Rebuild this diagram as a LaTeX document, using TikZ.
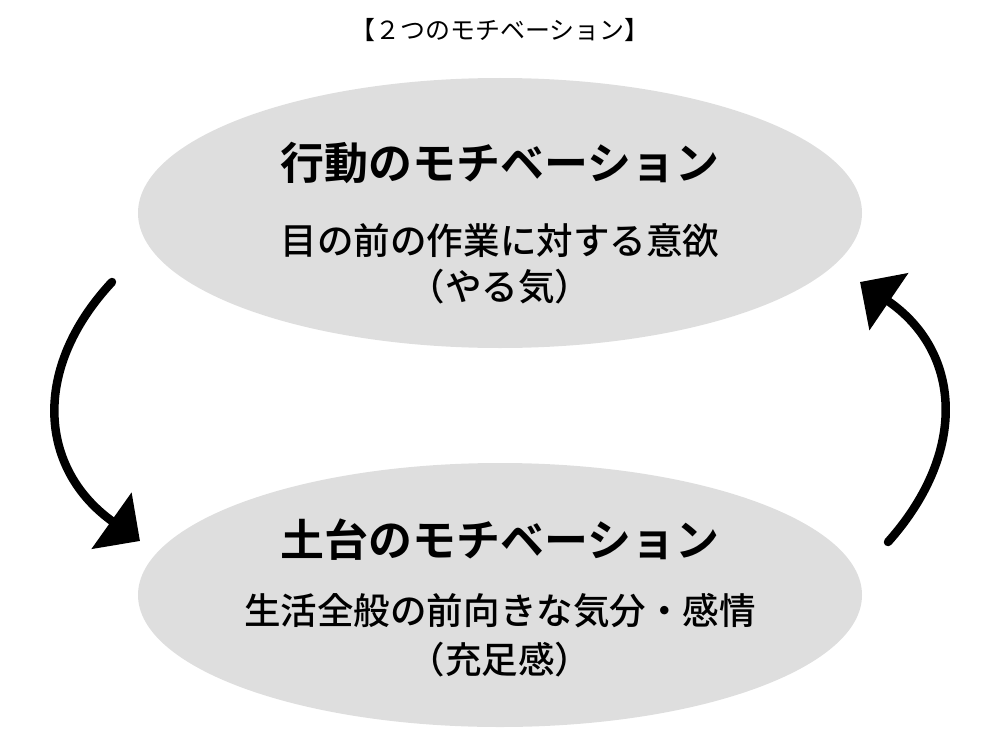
\documentclass[tikz,border=0pt]{standalone}
\usepackage{fontspec}
\usetikzlibrary{arrows.meta}
\newfontfamily\jpfont{Noto Sans CJK JP}
\newfontfamily\jpbold{Noto Sans CJK JP Bold}
\newfontfamily\jpmedium{Noto Sans CJK JP Medium}
\definecolor{ovalgray}{HTML}{DEDEDE}

\begin{document}
\begin{tikzpicture}[
        x=0.02cm, y=-0.02cm,
        oval/.style={fill=ovalgray},
        title/.style={font=\jpfont\fontsize{14.2}{17}\selectfont},
        heading/.style={font=\jpbold\fontsize{25}{30}\selectfont},
        sub/.style={font=\jpmedium\fontsize{20.8}{26}\selectfont, align=center},
        turn/.style={line width=0.17cm, line cap=round, -{Triangle[length=0.7cm, width=1.35cm]}},
    ]
    \useasboundingbox (0,0) rectangle (1000,750);
    \fill[oval] (500,213) ellipse [x radius=362, y radius=135];
    \fill[oval] (500,595) ellipse [x radius=362, y radius=132];

    \node[title](title) at (500,30){【２つのモチベーション】};

    \node[heading](action) at (500,163){行動のモチベーション};
    \node[sub](actiontext) at (500,241){目の前の作業に対する意欲};
    \node[sub](actionnote) at (500,287){（やる気）};

    \node[heading](base) at (500,540){土台のモチベーション};
    \node[sub](basetext) at (500,611){生活全般の前向きな気分・感情};
    \node[sub](basenote) at (500,660){（充足感）};

    \coordinate (downstart) at (112,282);
    \coordinate (downend) at (140,541);
    \coordinate (upstart) at (888,542);
    \coordinate (upend) at (860,282);

    \draw[turn] (downstart) .. controls (30,370) and (40,470) .. (downend);
    \draw[turn] (upstart) .. controls (970,450) and (960,350) .. (upend);

    \end{tikzpicture}
\end{document}
